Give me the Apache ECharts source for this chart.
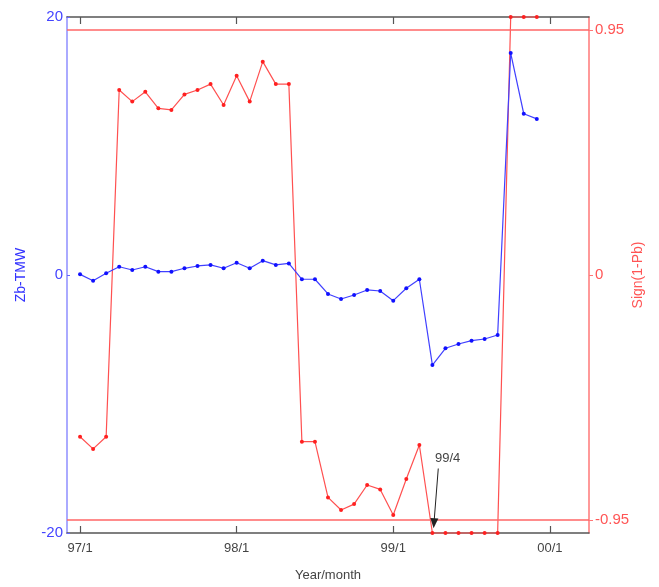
<!DOCTYPE html>
<html>
<head>
<meta charset="utf-8">
<script src="https://cdn.jsdelivr.net/npm/echarts@6/dist/echarts.min.js"></script>
<style>
  html, body { margin: 0; padding: 0; background: #fff; }
  #chart { width: 659px; height: 587px; }
</style>
</head>
<body>
<div id="chart"></div>
<script>
// Months counted from 97/1 (0) to 99/12 (35)
const months = [0,1,2,3,4,5,6,7,8,9,10,11,12,13,14,15,16,17,18,19,20,21,22,23,24,25,26,27,28,29,30,31,32,33,34,35];

// Zb-TMW statistic (left axis)
const zbTmw = [0.05,-0.44,0.13,0.64,0.39,0.64,0.26,0.26,0.52,0.70,0.78,0.52,0.95,0.52,1.11,0.78,0.90,
  -0.33,-0.33,-1.47,-1.86,-1.55,-1.16,-1.24,-1.99,-1.03,-0.33,
  -6.98,-5.68,-5.35,-5.09,-4.96,-4.65,17.2,12.5,12.1];

// Sign(1-Pb) (right axis)
const signPb = [-0.627,-0.674,-0.627,0.717,0.672,0.710,0.646,0.640,0.700,0.717,0.740,0.659,0.772,0.672,0.827,0.740,0.740,
  -0.646,-0.646,-0.862,-0.911,-0.888,-0.814,-0.831,-0.930,-0.791,-0.659,
  -1,-1,-1,-1,-1,-1,1,1,1];

// Tick positions / labels
const xTickValues = [0, 12, 24, 36];
const xTickLabels = ['97/1', '98/1', '99/1', '00/1'];
const leftTicks = [-20, 0, 20];
const rightTicks = [-0.95, 0, 0.95];
const rightTickLabels = ['-0.95', '0', '0.95'];

// Significance threshold and annotated change point
const threshold = 0.95;
const changeMonth = 27;
const changeLabel = '99/4';

const FONT = 'Liberation Sans, Arial, sans-serif';
const pair = (xs, ys) => xs.map((x, i) => [x, ys[i]]);

const chart = echarts.init(document.getElementById('chart'), null, { renderer: 'canvas' });

const xCommon = {
  type: 'value',
  min: -1,
  max: 39,
  splitLine: { show: false },
  axisLine: { show: true, onZero: false, lineStyle: { color: '#555', width: 1.5 } },
  axisTick: { show: true, inside: true, length: 7, customValues: xTickValues, lineStyle: { color: '#555', width: 1.2 } }
};

const thresholdLine = {
  lineStyle: { color: '#ff6666', width: 1.5, type: 'solid' },
  label: { show: false }
};

chart.setOption({
  animation: false,
  backgroundColor: '#fff',
  grid: { left: 67, right: 70, top: 17, bottom: 54, containLabel: false, outerBoundsMode: 'none' },
  xAxis: [
    Object.assign({}, xCommon, {
      position: 'bottom',
      name: 'Year/month',
      nameLocation: 'middle',
      nameGap: 36,
      nameTextStyle: { color: '#444', fontFamily: FONT, fontSize: 13 },
      axisLabel: {
        customValues: xTickValues,
        margin: 9,
        color: '#444',
        fontFamily: FONT,
        fontSize: 13,
        formatter: v => xTickLabels[xTickValues.indexOf(v)] || ''
      }
    }),
    Object.assign({}, xCommon, {
      position: 'top',
      axisLabel: { show: false }
    })
  ],
  yAxis: [
    {
      type: 'value',
      min: -20,
      max: 20,
      position: 'left',
      name: 'Zb-TMW',
      nameLocation: 'middle',
      nameGap: 39,
      nameRotate: 90,
      nameTextStyle: { color: '#3333ff', fontFamily: FONT, fontSize: 14 },
      splitLine: { show: false },
      axisLine: { show: true, onZero: false, lineStyle: { color: '#aaaaff', width: 2 } },
      axisTick: { show: true, inside: true, length: 3, customValues: leftTicks, lineStyle: { color: '#6666ff' } },
      axisLabel: {
        customValues: leftTicks,
        margin: 4,
        color: '#4444ff',
        fontFamily: FONT,
        fontSize: 15
      }
    },
    {
      type: 'value',
      min: -1,
      max: 1,
      position: 'right',
      name: 'Sign(1-Pb)',
      nameLocation: 'middle',
      nameGap: 42,
      nameMoveOverlap: false,
      nameRotate: 90,
      nameTextStyle: { color: '#ff5555', fontFamily: FONT, fontSize: 14 },
      splitLine: { show: false },
      axisLine: { show: true, onZero: false, lineStyle: { color: '#ff7777', width: 1.5 } },
      axisTick: { show: true, inside: false, length: 4, customValues: rightTicks, lineStyle: { color: '#ff7777' } },
      axisLabel: {
        customValues: rightTicks,
        margin: 6,
        color: '#ff5555',
        fontFamily: FONT,
        fontSize: 15,
        formatter: v => rightTickLabels[rightTicks.indexOf(v)]
      }
    }
  ],
  series: [
    {
      name: 'Sign(1-Pb)',
      type: 'line',
      xAxisIndex: 0,
      yAxisIndex: 1,
      data: pair(months, signPb),
      clip: false,
      symbol: 'circle',
      symbolSize: 4,
      itemStyle: { color: '#ff2020' },
      lineStyle: { color: '#ff5050', width: 1.2 },
      z: 2,
      markLine: {
        silent: true,
        animation: false,
        symbol: ['none', 'none'],
        data: [
          Object.assign({ yAxis: threshold }, thresholdLine),
          Object.assign({ yAxis: -threshold }, thresholdLine),
          [
            {
              coord: [changeMonth + 0.45, -0.75],
              symbol: 'none',
              lineStyle: { color: '#222', width: 1, type: 'solid' },
              label: {
                show: true,
                position: 'start',
                formatter: changeLabel,
                color: '#444',
                fontFamily: FONT,
                fontSize: 13,
                distance: 4,
                offset: [9, 0]
              }
            },
            {
              coord: [changeMonth + 0.12, -0.962],
              symbol: 'triangle',
              symbolSize: [8, 10]
            }
          ]
        ]
      }
    },
    {
      name: 'Zb-TMW',
      type: 'line',
      xAxisIndex: 0,
      yAxisIndex: 0,
      data: pair(months, zbTmw),
      clip: false,
      symbol: 'circle',
      symbolSize: 4,
      itemStyle: { color: '#1010ff' },
      lineStyle: { color: '#4040ff', width: 1.2 },
      z: 3
    }
  ]
});
</script>
</body>
</html>
